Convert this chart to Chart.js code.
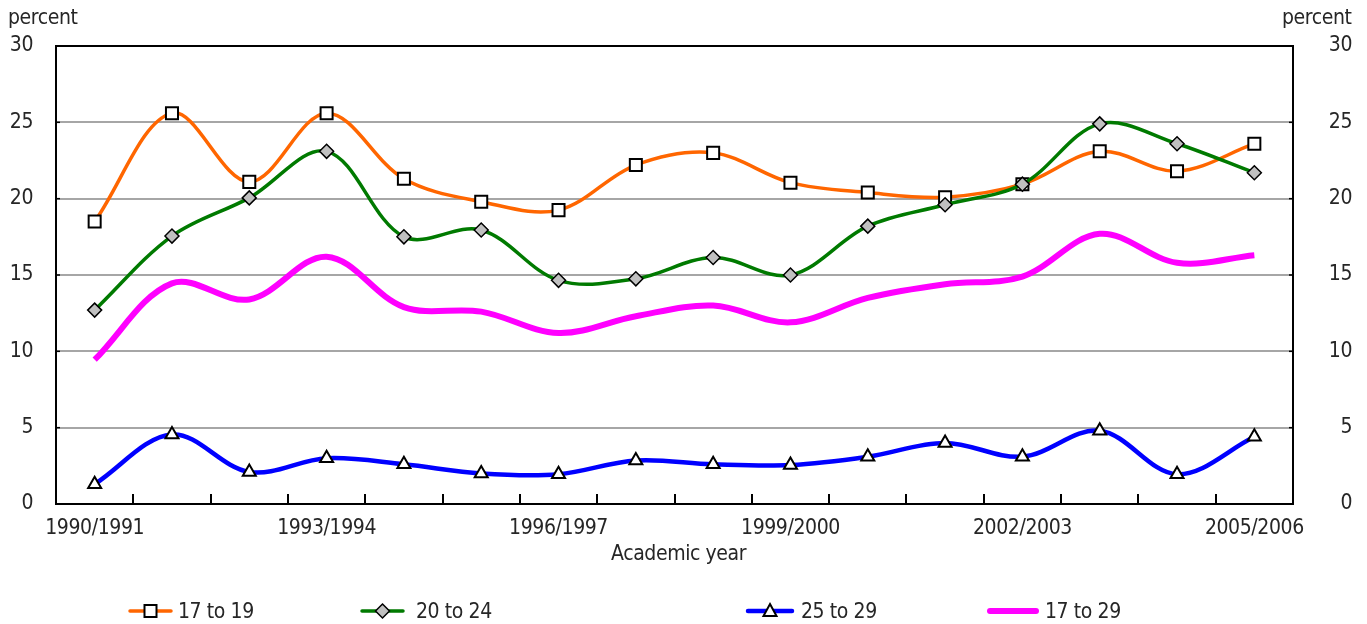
<!DOCTYPE html>
<html><head><meta charset="utf-8">
<script src="https://cdn.jsdelivr.net/npm/chart.js@4.4.1/dist/chart.umd.min.js"></script>
<style>
html,body{margin:0;padding:0;background:#fff;}
#wrap{position:relative;width:1367px;height:624px;overflow:hidden;background:#fff;}
canvas{position:absolute;left:0;top:0;}
.t{position:absolute;font-family:'DejaVu Sans Condensed',sans-serif;font-size:21px;letter-spacing:-0.4px;color:#262626;line-height:21px;white-space:nowrap;}
.leg{position:absolute;overflow:visible;}
</style></head><body>
<div id="wrap">
<canvas id="c" width="1367" height="624"></canvas>
<div class="t" style="left:8px;top:7px">percent</div>
<div class="t" style="left:1282px;top:7px">percent</div>
<div class="t" style="left:611px;top:543px">Academic year</div>
<div id="legend"></div>
</div>
<script>
// ---- data ----
const categories = ['1990/1991','1991/1992','1992/1993','1993/1994','1994/1995','1995/1996','1996/1997','1997/1998','1998/1999','1999/2000','2000/2001','2001/2002','2002/2003','2003/2004','2004/2005','2005/2006'];
const seriesNames = ['17 to 19','20 to 24','25 to 29','17 to 29'];
const age17to19 = [18.5,25.6,21.1,25.6,21.3,19.8,19.25,22.2,23.0,21.05,20.4,20.1,20.95,23.1,21.8,23.6];
const age20to24 = [12.7,17.55,20.05,23.1,17.5,17.95,14.65,14.75,16.15,15.0,18.2,19.6,20.95,24.9,23.6,21.7];
const age25to29 = [1.3,4.55,2.1,3.0,2.6,2.0,1.95,2.85,2.6,2.55,3.1,4.0,3.1,4.8,1.95,4.4];
const age17to29 = [9.45,14.45,13.4,16.2,12.9,12.6,11.2,12.3,13.0,11.9,13.5,14.4,14.9,17.7,15.8,16.3];
const yTicks = [0,5,10,15,20,25,30];

const FONT = "'DejaVu Sans Condensed',sans-serif";
Chart.defaults.font.family = FONT;
Chart.defaults.font.size = 21;
Chart.defaults.color = '#262626';
const LS = '-0.4px';

const decor = {
  id:'decor',
  beforeLayout(chart){ chart.ctx.letterSpacing = LS; },
  beforeDraw(chart){ chart.ctx.letterSpacing = LS; },
  afterDraw(chart){
    const ctx = chart.ctx, a = chart.chartArea, xs = chart.scales.x, ys = chart.scales.y;
    ctx.save();
    ctx.strokeStyle = '#000'; ctx.lineWidth = 2;
    for (let i = 1; i < categories.length; i++) {
      const px = Math.round((xs.getPixelForValue(i-1) + xs.getPixelForValue(i)) / 2);
      ctx.beginPath(); ctx.moveTo(px, a.bottom); ctx.lineTo(px, a.bottom - 10); ctx.stroke();
    }
    ctx.lineWidth = 1.5;
    yTicks.forEach(v => {
      const py = ys.getPixelForValue(v);
      ctx.beginPath(); ctx.moveTo(a.left, py); ctx.lineTo(a.left + 4, py); ctx.stroke();
      ctx.beginPath(); ctx.moveTo(a.right - 4, py); ctx.lineTo(a.right, py); ctx.stroke();
    });
    ctx.restore();
  }
};

const T = 0.35;
const datasets = [
  {label:seriesNames[0], data:age17to19, borderColor:'#FF6600', borderWidth:3.5, tension:T,
   pointStyle:'rect', pointRadius:8.5, pointBackgroundColor:'#fff', pointBorderColor:'#000', pointBorderWidth:2, order:4},
  {label:seriesNames[1], data:age20to24, borderColor:'#007A00', borderWidth:3.5, tension:T,
   pointStyle:'rectRot', pointRadius:7, pointBackgroundColor:'#C0C0C0', pointBorderColor:'#000', pointBorderWidth:1.5, order:3},
  {label:seriesNames[2], data:age25to29, borderColor:'#0000FF', borderWidth:4.5, tension:T,
   pointStyle:'triangle', pointRadius:7.5, pointBackgroundColor:'#fff', pointBorderColor:'#000', pointBorderWidth:2, order:2},
  {label:seriesNames[3], data:age17to29, borderColor:'#FF00FF', borderWidth:6, tension:T,
   pointRadius:0, order:1}
];

new Chart(document.getElementById('c'), {
  type:'line',
  data:{labels:categories, datasets},
  options:{
    responsive:false, animation:false, devicePixelRatio:1,
    layout:{padding:{top:46, left:0, right:15, bottom:0}},
    plugins:{legend:{display:false}, tooltip:{enabled:false}},
    scales:{
      x:{type:'category', offset:true,
         grid:{display:false, drawTicks:false},
         border:{display:true, color:'#000', width:2},
         ticks:{autoSkip:false, maxRotation:0, minRotation:0, padding:12,
                callback:(v,i)=> i % 3 === 0 ? categories[i] : ''},
         afterFit(s){ s.height = 120; }},
      y:{position:'left', min:0, max:30,
         afterBuildTicks(s){ s.ticks = yTicks.map(v=>({value:v})); },
         ticks:{padding:23},
         grid:{color:c=> c.tick && c.tick.value === 30 ? '#000' : '#a6a6a6', lineWidth:2, drawTicks:false},
         border:{display:true, color:'#000', width:2},
         afterFit(s){ s.width = 56; }},
      y2:{position:'right', min:0, max:30,
         afterBuildTicks(s){ s.ticks = yTicks.map(v=>({value:v})); },
         ticks:{padding:24, crossAlign:'far'},
         grid:{drawOnChartArea:false, drawTicks:false},
         border:{display:true, color:'#000', width:2},
         afterFit(s){ s.width = 59; }}
    }
  },
  plugins:[decor]
});

// ---- HTML legend (layout only) ----
const legendLayout = [
  {x:130, w:41, text:178},
  {x:362, w:41, text:416},
  {x:748, w:44, text:801},
  {x:990, w:46, text:1045}
];
const legendY = 611;
const leg = document.getElementById('legend');
datasets.forEach((d, i) => {
  const L = legendLayout[i];
  const svgNS = 'http://www.w3.org/2000/svg';
  const svg = document.createElementNS(svgNS,'svg');
  svg.setAttribute('class','leg');
  svg.setAttribute('width', L.w + 4); svg.setAttribute('height', 24);
  svg.style.left = (L.x - 2) + 'px'; svg.style.top = (legendY - 12) + 'px';
  const line = document.createElementNS(svgNS,'line');
  line.setAttribute('x1', 2); line.setAttribute('x2', L.w + 2); line.setAttribute('y1', 12); line.setAttribute('y2', 12);
  line.setAttribute('stroke', d.borderColor); line.setAttribute('stroke-width', d.borderWidth);
  line.setAttribute('stroke-linecap','round');
  svg.appendChild(line);
  const cx = 2 + L.w / 2, cy = 12;
  let m = null;
  if (d.pointStyle === 'rect') {
    m = document.createElementNS(svgNS,'rect');
    m.setAttribute('x', cx - 6); m.setAttribute('y', cy - 6); m.setAttribute('width', 12); m.setAttribute('height', 12);
  } else if (d.pointStyle === 'rectRot') {
    m = document.createElementNS(svgNS,'polygon');
    m.setAttribute('points', `${cx},${cy-7} ${cx+7},${cy} ${cx},${cy+7} ${cx-7},${cy}`);
  } else if (d.pointStyle === 'triangle') {
    m = document.createElementNS(svgNS,'polygon');
    m.setAttribute('points', `${cx},${cy-7} ${cx+6.5},${cy+5} ${cx-6.5},${cy+5}`);
  }
  if (m) {
    m.setAttribute('fill', d.pointBackgroundColor); m.setAttribute('stroke', '#000');
    m.setAttribute('stroke-width', d.pointBorderWidth);
    svg.appendChild(m);
  }
  leg.appendChild(svg);
  const t = document.createElement('div');
  t.className = 't'; t.textContent = d.label;
  t.style.left = L.text + 'px'; t.style.top = (legendY - 10) + 'px';
  leg.appendChild(t);
});
</script>
</body></html>
